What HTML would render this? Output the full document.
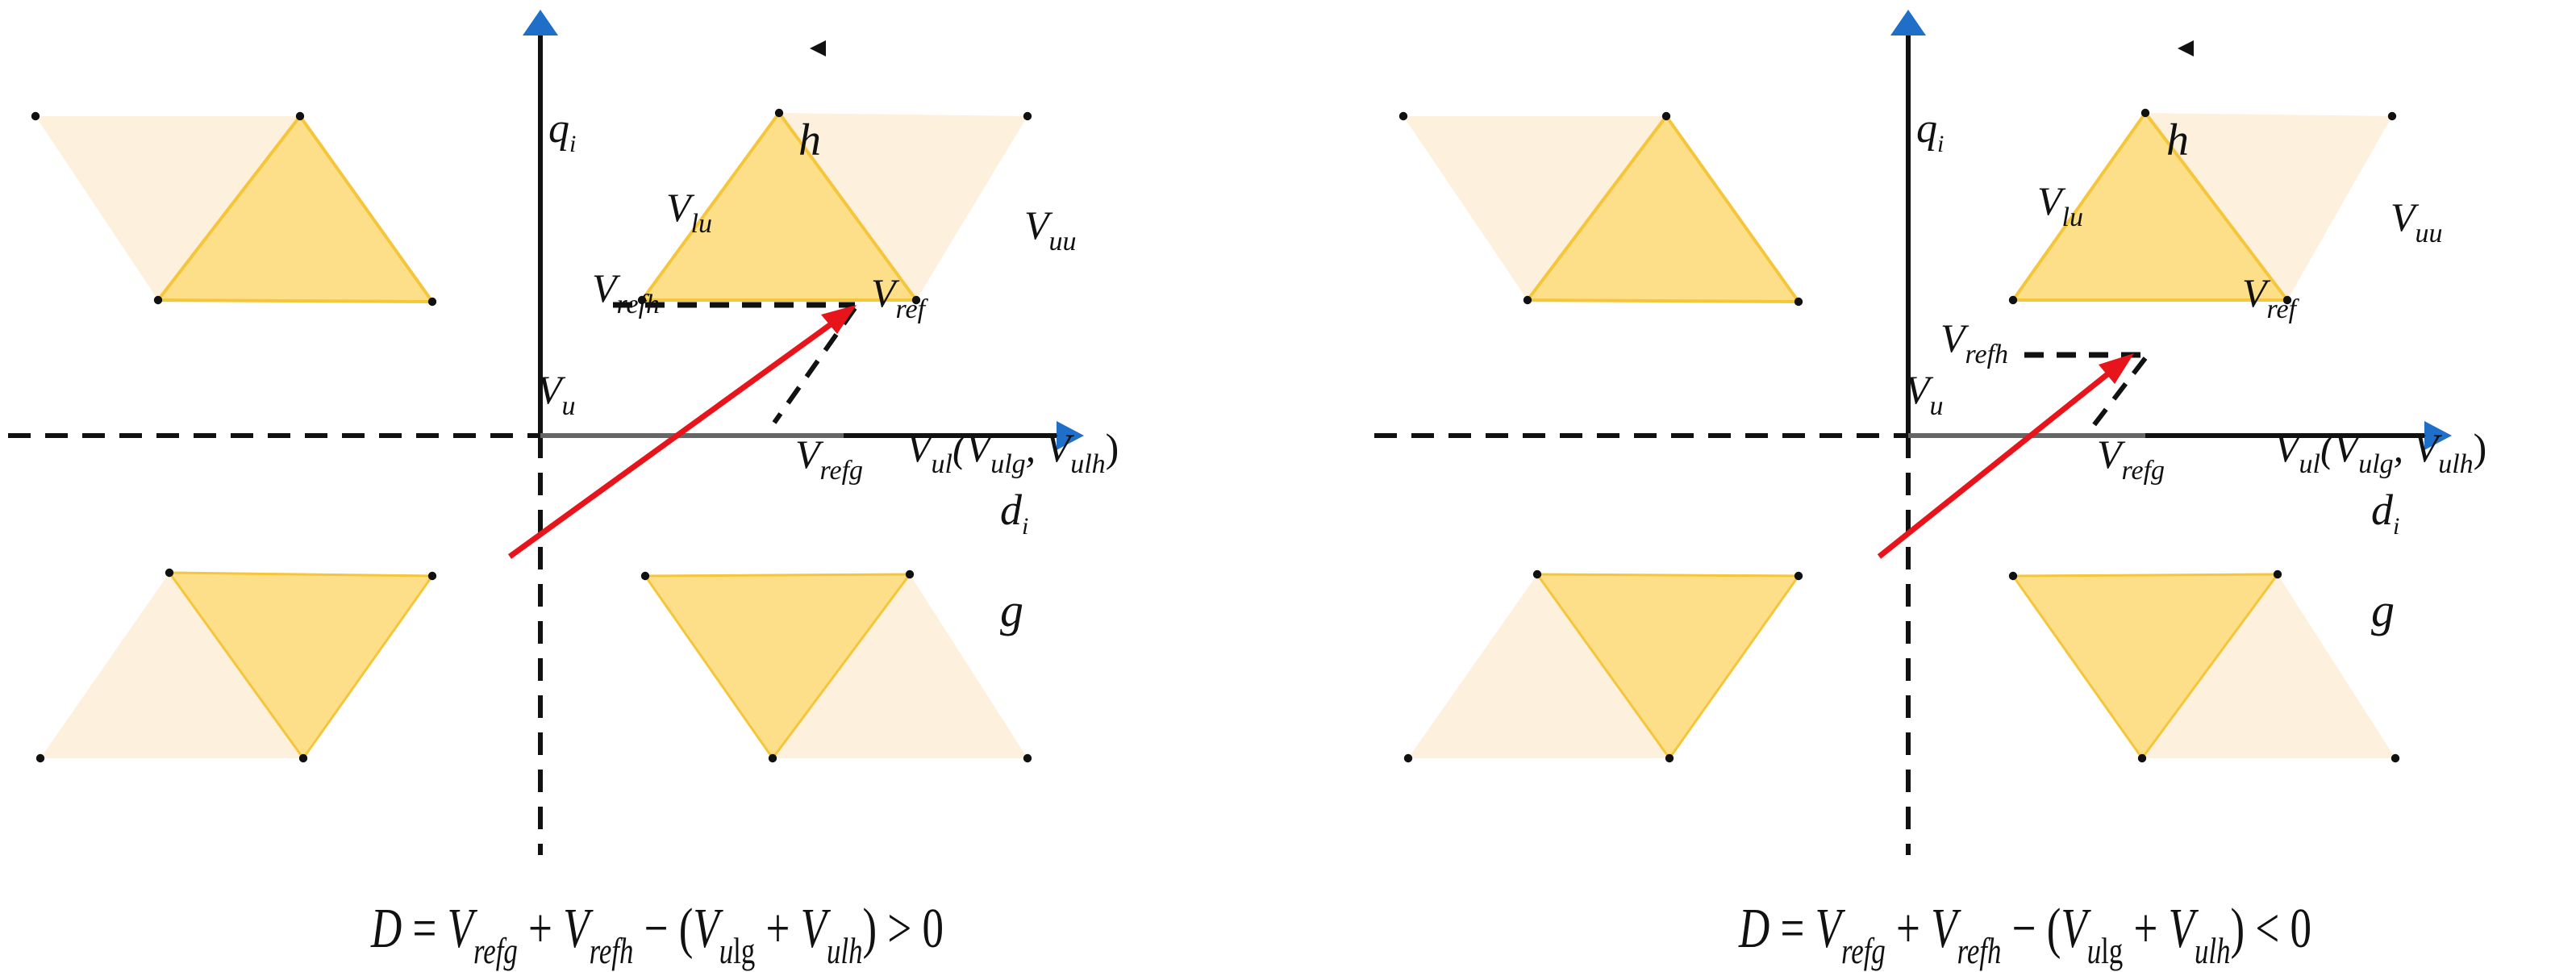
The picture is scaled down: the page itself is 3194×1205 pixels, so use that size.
<!DOCTYPE html>
<html><head><meta charset="utf-8"><style>
html,body{margin:0;padding:0;background:#fff;}
svg{display:block;}
text{font-family:"Liberation Serif",serif;font-style:italic;fill:#111;}
</style></head><body>
<svg width="3194" height="1205" viewBox="0 0 1597 602.5" xmlns="http://www.w3.org/2000/svg">

<!-- LEFT PANEL -->
<g>
<polygon points="22,72 186,72 98,186" fill="#fdf0dc"/>
<polygon points="186,72 268,187 98,186" fill="#fddf8a" stroke="#f5c53a" stroke-width="2"/>
<polygon points="483,70 637,72 568,186" fill="#fdf0dc"/>
<polygon points="483,70 568,186 398,186" fill="#fddf8a" stroke="#f5c53a" stroke-width="2"/>
<polygon points="105,355 188,470 25,470" fill="#fdf0dc"/>
<polygon points="105,355 268,357 188,470" fill="#fddf8a" stroke="#f5c53a" stroke-width="1.5"/>
<polygon points="564,356 637,470 479,470" fill="#fdf0dc"/>
<polygon points="400,357 564,356 479,470" fill="#fddf8a" stroke="#f5c53a" stroke-width="1.5"/>
<g fill="#111">
<circle cx="22" cy="72" r="2.6"/><circle cx="186" cy="72" r="2.6"/><circle cx="268" cy="187" r="2.6"/><circle cx="98" cy="186" r="2.6"/>
<circle cx="483" cy="70" r="2.6"/><circle cx="637" cy="72" r="2.6"/><circle cx="568" cy="186" r="2.6"/><circle cx="398" cy="186" r="2.6"/>
<circle cx="105" cy="355" r="2.6"/><circle cx="268" cy="357" r="2.6"/><circle cx="188" cy="470" r="2.6"/><circle cx="25" cy="470" r="2.6"/>
<circle cx="400" cy="357" r="2.6"/><circle cx="564" cy="356" r="2.6"/><circle cx="637" cy="470" r="2.6"/><circle cx="479" cy="470" r="2.6"/>
</g>
<line x1="335" y1="20" x2="335" y2="270" stroke="#111" stroke-width="3"/>
<line x1="335" y1="270" x2="335" y2="530" stroke="#111" stroke-width="3" stroke-dasharray="14,9"/>
<polygon points="335,6 324,22 346,22" fill="#1f6fc8"/>
<line x1="5" y1="270" x2="335" y2="270" stroke="#111" stroke-width="3" stroke-dasharray="14,9"/>
<line x1="335" y1="270" x2="523" y2="270" stroke="#666" stroke-width="3"/>
<line x1="523" y1="270" x2="660" y2="270" stroke="#111" stroke-width="3"/>
<polygon points="672,270 655,261 655,279" fill="#1f6fc8"/>
<line x1="380" y1="189" x2="530" y2="189" stroke="#111" stroke-width="3.5" stroke-dasharray="12,8"/>
<line x1="530" y1="191" x2="480" y2="262" stroke="#111" stroke-width="3" stroke-dasharray="12,8"/>
<line x1="316" y1="345" x2="522" y2="196" stroke="#e8141c" stroke-width="3.5"/>
<polygon points="531,189 509,195 519,207" fill="#e8141c"/>
<polygon points="502,30 512,25 512,35" fill="#111"/>
<text x="340" y="88" font-size="26">q<tspan font-size="15" dy="6">i</tspan></text>
<text x="495" y="96" font-size="28">h</text>
<text x="413" y="137" font-size="25">V<tspan font-size="17" dy="7">lu</tspan></text>
<text x="635" y="148" font-size="25">V<tspan font-size="17" dy="7">uu</tspan></text>
<text x="367" y="187" font-size="25">V<tspan font-size="17" dy="7">refh</tspan></text>
<text x="540" y="190" font-size="25">V<tspan font-size="17" dy="7">ref</tspan></text>
<text x="333" y="250" font-size="25">V<tspan font-size="17" dy="7">u</tspan></text>
<text x="562" y="286" font-size="25">V<tspan font-size="17" dy="7">ul</tspan><tspan dy="-7">(V</tspan><tspan font-size="17" dy="7">ulg</tspan><tspan dy="-7">, V</tspan><tspan font-size="17" dy="7">ulh</tspan><tspan dy="-7" font-style="normal">)</tspan></text>
<text x="493" y="290" font-size="25">V<tspan font-size="17" dy="7">refg</tspan></text>
<text x="620" y="325" font-size="27">d<tspan font-size="15" dy="6">i</tspan></text>
<text x="620" y="388" font-size="29">g</text>
<text x="230" y="587" font-size="35" textLength="355" lengthAdjust="spacingAndGlyphs">D <tspan font-style="normal">=</tspan> V<tspan font-size="23" dy="10">refg</tspan><tspan dy="-10" font-style="normal"> + </tspan>V<tspan font-size="23" dy="10">refh</tspan><tspan dy="-10" font-style="normal"> − (</tspan>V<tspan font-size="23" dy="10">u</tspan><tspan font-size="23" font-style="normal">lg</tspan><tspan dy="-10" font-style="normal"> + </tspan>V<tspan font-size="23" dy="10">ulh</tspan><tspan dy="-10" font-style="normal">) &gt; 0</tspan></text>
</g>

<!-- RIGHT PANEL -->
<g>
<polygon points="870,72 1033,72 947,186" fill="#fdf0dc"/>
<polygon points="1033,72 1115,187 947,186" fill="#fddf8a" stroke="#f5c53a" stroke-width="2"/>
<polygon points="1330,70 1483,72 1418,186" fill="#fdf0dc"/>
<polygon points="1330,70 1418,186 1248,186" fill="#fddf8a" stroke="#f5c53a" stroke-width="2"/>
<polygon points="953,356 1035,470 873,470" fill="#fdf0dc"/>
<polygon points="953,356 1115,357 1035,470" fill="#fddf8a" stroke="#f5c53a" stroke-width="1.5"/>
<polygon points="1412,356 1485,470 1328,470" fill="#fdf0dc"/>
<polygon points="1248,357 1412,356 1328,470" fill="#fddf8a" stroke="#f5c53a" stroke-width="1.5"/>
<g fill="#111">
<circle cx="870" cy="72" r="2.6"/><circle cx="1033" cy="72" r="2.6"/><circle cx="1115" cy="187" r="2.6"/><circle cx="947" cy="186" r="2.6"/>
<circle cx="1330" cy="70" r="2.6"/><circle cx="1483" cy="72" r="2.6"/><circle cx="1418" cy="186" r="2.6"/><circle cx="1248" cy="186" r="2.6"/>
<circle cx="953" cy="356" r="2.6"/><circle cx="1115" cy="357" r="2.6"/><circle cx="1035" cy="470" r="2.6"/><circle cx="873" cy="470" r="2.6"/>
<circle cx="1248" cy="357" r="2.6"/><circle cx="1412" cy="356" r="2.6"/><circle cx="1485" cy="470" r="2.6"/><circle cx="1328" cy="470" r="2.6"/>
</g>
<line x1="1183" y1="20" x2="1183" y2="270" stroke="#111" stroke-width="3"/>
<line x1="1183" y1="270" x2="1183" y2="530" stroke="#111" stroke-width="3" stroke-dasharray="14,9"/>
<polygon points="1183,6 1172,22 1194,22" fill="#1f6fc8"/>
<line x1="852" y1="270" x2="1183" y2="270" stroke="#111" stroke-width="3" stroke-dasharray="14,9"/>
<line x1="1183" y1="270" x2="1330" y2="270" stroke="#666" stroke-width="3"/>
<line x1="1330" y1="270" x2="1508" y2="270" stroke="#111" stroke-width="3"/>
<polygon points="1520,270 1503,261 1503,279" fill="#1f6fc8"/>
<line x1="1255" y1="220" x2="1330" y2="220" stroke="#111" stroke-width="3.5" stroke-dasharray="12,8"/>
<line x1="1330" y1="222" x2="1297" y2="265" stroke="#111" stroke-width="3" stroke-dasharray="12,8"/>
<line x1="1165" y1="345" x2="1314" y2="226" stroke="#e8141c" stroke-width="3.5"/>
<polygon points="1323,219 1301,226 1311,238" fill="#e8141c"/>
<polygon points="1350,30 1360,25 1360,35" fill="#111"/>
<text x="1188" y="88" font-size="26">q<tspan font-size="15" dy="6">i</tspan></text>
<text x="1343" y="96" font-size="28">h</text>
<text x="1263" y="133" font-size="25">V<tspan font-size="17" dy="7">lu</tspan></text>
<text x="1482" y="143" font-size="25">V<tspan font-size="17" dy="7">uu</tspan></text>
<text x="1203" y="218" font-size="25">V<tspan font-size="17" dy="7">refh</tspan></text>
<text x="1390" y="190" font-size="25">V<tspan font-size="17" dy="7">ref</tspan></text>
<text x="1181" y="250" font-size="25">V<tspan font-size="17" dy="7">u</tspan></text>
<text x="1410" y="286" font-size="25">V<tspan font-size="17" dy="7">ul</tspan><tspan dy="-7">(V</tspan><tspan font-size="17" dy="7">ulg</tspan><tspan dy="-7">, V</tspan><tspan font-size="17" dy="7">ulh</tspan><tspan dy="-7" font-style="normal">)</tspan></text>
<text x="1300" y="290" font-size="25">V<tspan font-size="17" dy="7">refg</tspan></text>
<text x="1470" y="325" font-size="27">d<tspan font-size="15" dy="6">i</tspan></text>
<text x="1470" y="388" font-size="29">g</text>
<text x="1078" y="587" font-size="35" textLength="355" lengthAdjust="spacingAndGlyphs">D <tspan font-style="normal">=</tspan> V<tspan font-size="23" dy="10">refg</tspan><tspan dy="-10" font-style="normal"> + </tspan>V<tspan font-size="23" dy="10">refh</tspan><tspan dy="-10" font-style="normal"> − (</tspan>V<tspan font-size="23" dy="10">u</tspan><tspan font-size="23" font-style="normal">lg</tspan><tspan dy="-10" font-style="normal"> + </tspan>V<tspan font-size="23" dy="10">ulh</tspan><tspan dy="-10" font-style="normal">) &lt; 0</tspan></text>
</g>
</svg>
</body></html>
